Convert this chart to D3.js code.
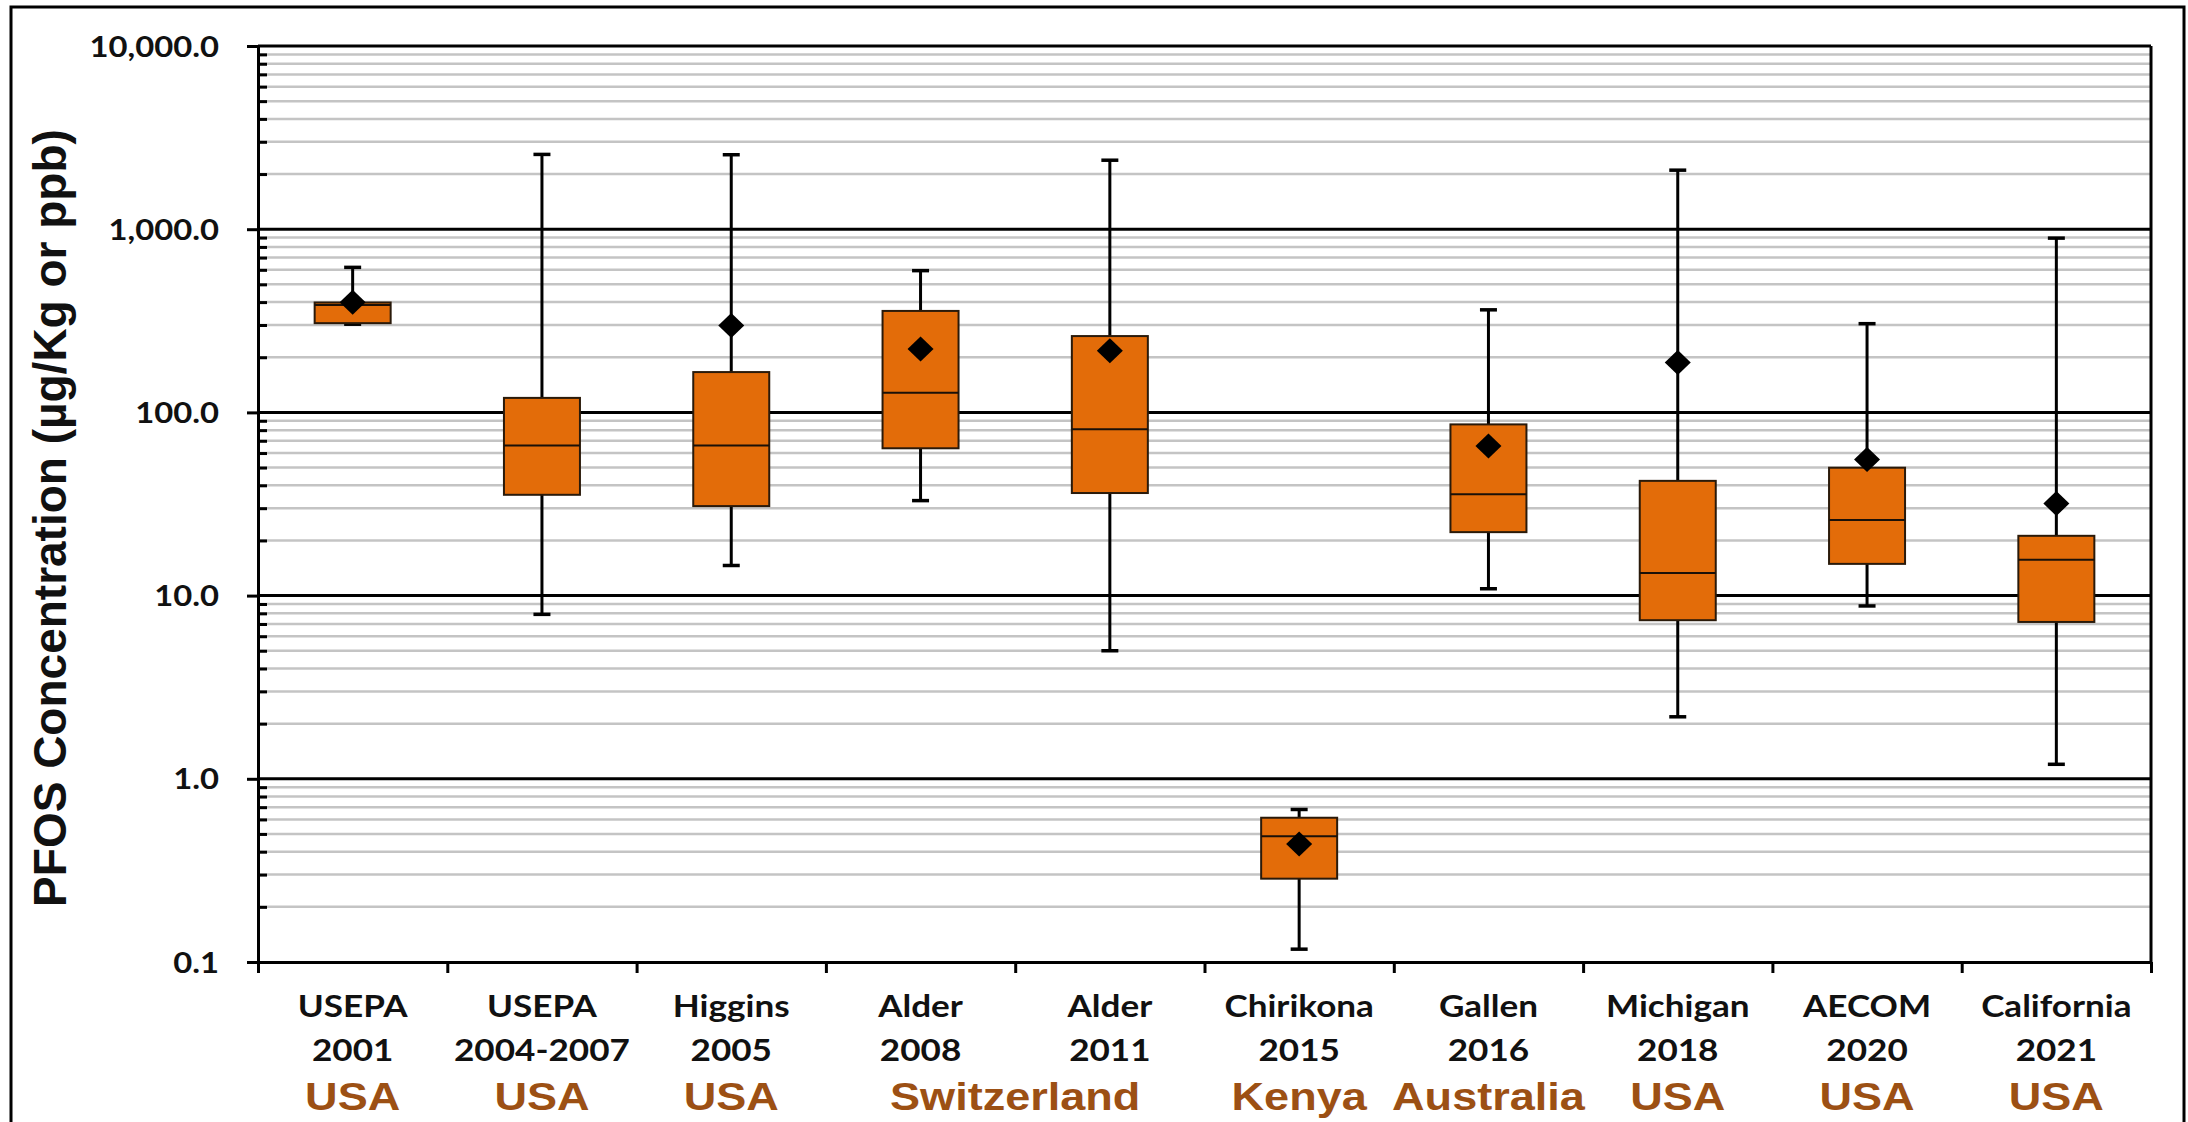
<!DOCTYPE html>
<html>
<head>
<meta charset="utf-8">
<script src="https://cdn.jsdelivr.net/npm/d3@7"></script>
<style>
  html, body { margin: 0; padding: 0; background: #fff; }
  svg { display: block; }
</style>
</head>
<body>
<svg id="chart" width="2188" height="1122"></svg>
<script>
// Study labels (two lines) and the country each study comes from
const studies = ["USEPA", "USEPA", "Higgins", "Alder", "Alder", "Chirikona", "Gallen", "Michigan", "AECOM", "California"];
const years = ["2001", "2004-2007", "2005", "2008", "2011", "2015", "2016", "2018", "2020", "2021"];
const countries = ["USA", "USA", "USA", "Switzerland", "Kenya", "Australia", "USA", "USA", "USA"];
const countrySpans = [[0, 0], [1, 1], [2, 2], [3, 4], [5, 5], [6, 6], [7, 7], [8, 8], [9, 9]];

// PFOS concentration statistics per study (µg/Kg)
const whiskerMax = [619, 2560, 2550, 594, 2380, 0.68, 363, 2100, 305, 894];
const q3 = [398, 120, 166, 358, 261, 0.613, 86, 42.3, 49.9, 21.2];
const median = [386, 66, 66, 128, 81, 0.486, 35.7, 13.3, 25.9, 15.7];
const q1 = [307, 35.5, 30.8, 63.7, 36.3, 0.285, 22.2, 7.34, 14.9, 7.18];
const whiskerMin = [303, 7.9, 14.6, 33, 5.0, 0.1175, 10.9, 2.18, 8.78, 1.2];
const mean = [399, null, 298, 222, 217, 0.44, 65.6, 187, 55.3, 31.8];

// Axis ticks
const majorTicks = [0.1, 1, 10, 100, 1000, 10000];

const svg = d3.select("#chart");
const plotLeft = 258, plotRight = 2151, plotTop = 46, plotBottom = 962;
const stretch = 1.17;

// Outer frame
svg.append("rect")
  .attr("x", 11).attr("y", 7)
  .attr("width", 2184 - 11).attr("height", 1200)
  .attr("fill", "none").attr("stroke", "#000").attr("stroke-width", 3);

const y = d3.scaleLog().domain([0.1, 10000]).range([plotBottom, plotTop]);
const x = d3.scaleBand().domain(d3.range(studies.length)).range([plotLeft, plotRight]).padding(0);
const xEdge = d3.scaleLinear().domain([0, studies.length]).range([plotLeft, plotRight]);

const minorTicks = [];
majorTicks.slice(0, -1).forEach(d => {
  for (let k = 2; k <= 9; k++) minorTicks.push(d * k);
});

// Minor gridlines
svg.append("g").selectAll("line").data(minorTicks).join("line")
  .attr("x1", plotLeft).attr("x2", plotRight)
  .attr("y1", d => y(d)).attr("y2", d => y(d))
  .attr("stroke", "#c4c4c4").attr("stroke-width", 2.5);

// Major gridlines
svg.append("g").selectAll("line").data(majorTicks.slice(1)).join("line")
  .attr("x1", plotLeft).attr("x2", plotRight)
  .attr("y1", d => y(d)).attr("y2", d => y(d))
  .attr("stroke", "#000").attr("stroke-width", 3);

// Right frame of the plot area
svg.append("line")
  .attr("x1", plotRight).attr("x2", plotRight)
  .attr("y1", plotTop).attr("y2", plotBottom)
  .attr("stroke", "#000").attr("stroke-width", 3);

const idx = d3.range(studies.length);
const cx = i => x(i) + x.bandwidth() / 2;
const boxW = 76, capW = 17;

const boxes = svg.append("g").selectAll("g").data(idx).join("g");

// Whisker stems and caps
boxes.append("line")
  .attr("x1", cx).attr("x2", cx)
  .attr("y1", i => y(whiskerMax[i])).attr("y2", i => y(whiskerMin[i]))
  .attr("stroke", "#000").attr("stroke-width", 3);
boxes.append("line")
  .attr("x1", i => cx(i) - capW / 2).attr("x2", i => cx(i) + capW / 2)
  .attr("y1", i => y(whiskerMax[i])).attr("y2", i => y(whiskerMax[i]))
  .attr("stroke", "#000").attr("stroke-width", 3.5);
boxes.append("line")
  .attr("x1", i => cx(i) - capW / 2).attr("x2", i => cx(i) + capW / 2)
  .attr("y1", i => y(whiskerMin[i])).attr("y2", i => y(whiskerMin[i]))
  .attr("stroke", "#000").attr("stroke-width", 3.5);

// Interquartile boxes
boxes.append("rect")
  .attr("x", i => cx(i) - boxW / 2)
  .attr("width", boxW)
  .attr("y", i => y(q3[i]))
  .attr("height", i => y(q1[i]) - y(q3[i]))
  .attr("fill", "#E36C09").attr("stroke", "#2a1a0a").attr("stroke-width", 2);

// Medians
boxes.append("line")
  .attr("x1", i => cx(i) - boxW / 2).attr("x2", i => cx(i) + boxW / 2)
  .attr("y1", i => y(median[i])).attr("y2", i => y(median[i]))
  .attr("stroke", "#1a1008").attr("stroke-width", 2);

// Means as diamonds
const dw = 13, dh = 12.5;
svg.append("g").selectAll("path").data(idx.filter(i => mean[i] != null)).join("path")
  .attr("d", i => {
    const px = cx(i), py = y(mean[i]);
    return `M${px},${py - dh}L${px + dw},${py}L${px},${py + dh}L${px - dw},${py}Z`;
  })
  .attr("fill", "#000");

// Y axis: major ticks outward with labels
const fmt = d3.format(",.1f");
const yAxis = svg.append("g")
  .attr("transform", `translate(${plotLeft},0)`)
  .call(d3.axisLeft(y).tickValues(majorTicks).tickFormat(fmt).tickSizeInner(11).tickSizeOuter(0).tickPadding(28));
yAxis.select(".domain").attr("stroke", "#000").attr("stroke-width", 3);
yAxis.selectAll(".tick line").attr("stroke", "#000").attr("stroke-width", 3);
yAxis.selectAll(".tick text")
  .attr("x", null).attr("dy", "0.36em")
  .attr("transform", `translate(-39,0) scale(${stretch},1)`)
  .attr("font-family", "Lato, sans-serif").attr("font-weight", "bold")
  .attr("font-size", 28).attr("fill", "#111");

// Y axis: minor ticks inward
const yMinor = svg.append("g")
  .attr("transform", `translate(${plotLeft},0)`)
  .call(d3.axisRight(y).tickValues(minorTicks).tickFormat("").tickSizeInner(9).tickSizeOuter(0));
yMinor.select(".domain").remove();
yMinor.selectAll(".tick line").attr("stroke", "#000").attr("stroke-width", 3);

// X axis: ticks at category boundaries
const xAxis = svg.append("g")
  .attr("transform", `translate(0,${plotBottom})`)
  .call(d3.axisBottom(xEdge).tickValues(d3.range(studies.length + 1)).tickFormat("").tickSizeInner(11).tickSizeOuter(0));
xAxis.select(".domain").attr("stroke", "#000").attr("stroke-width", 3);
xAxis.selectAll(".tick line").attr("stroke", "#000").attr("stroke-width", 3);

// Category labels
const labels = svg.append("g").selectAll("g").data(idx).join("g")
  .attr("font-family", "Lato, sans-serif").attr("font-weight", "bold")
  .attr("font-size", 30).attr("fill", "#111").attr("text-anchor", "middle");
labels.append("text")
  .attr("transform", i => `translate(${cx(i)},1017) scale(${stretch},1)`)
  .text(i => studies[i]);
labels.append("text")
  .attr("transform", i => `translate(${cx(i)},1061) scale(${stretch},1)`)
  .text(i => years[i]);

// Country labels
svg.append("g").selectAll("text").data(countries).join("text")
  .attr("transform", (d, j) => {
    const [a, b] = countrySpans[j];
    const px = (xEdge(a) + xEdge(b + 1)) / 2;
    return `translate(${px},1110) scale(${stretch},1)`;
  })
  .attr("text-anchor", "middle")
  .attr("font-family", "'Liberation Sans', Arial, sans-serif").attr("font-weight", "bold")
  .attr("font-size", 38.5).attr("fill", "#9C5014")
  .text(d => d);

// Y axis title
svg.append("text")
  .attr("transform", `translate(66,518) rotate(-90)`)
  .attr("text-anchor", "middle")
  .attr("font-family", "'Liberation Sans', Arial, sans-serif").attr("font-weight", "bold")
  .attr("font-size", 46).attr("fill", "#111")
  .text("PFOS Concentration (µg/Kg or ppb)");
</script>
</body>
</html>
